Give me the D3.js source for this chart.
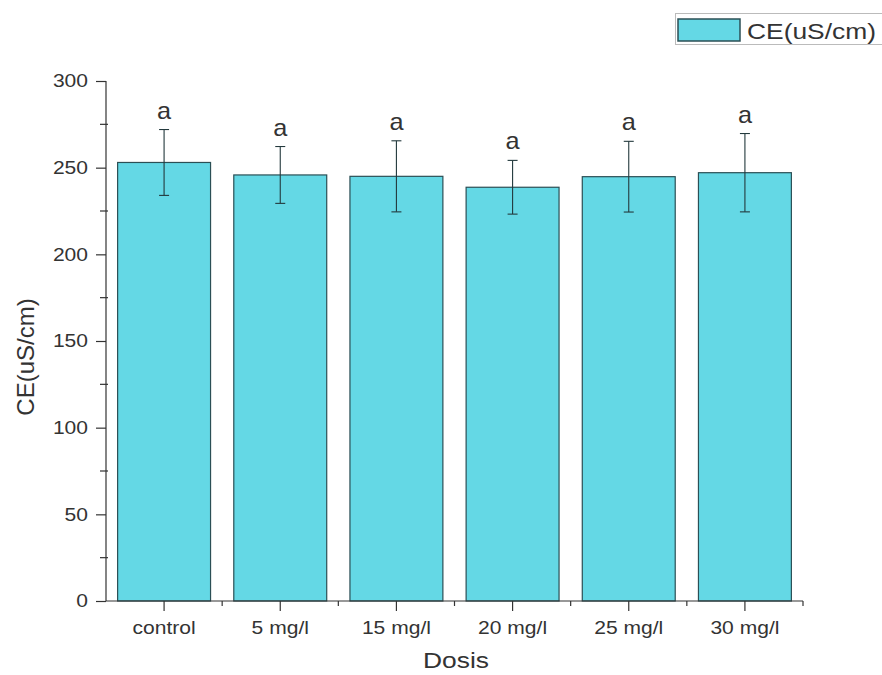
<!DOCTYPE html>
<html><head><meta charset="utf-8">
<script src="https://cdn.jsdelivr.net/npm/d3@7"></script>
<style>body{margin:0;background:#fff}svg{display:block}text{font-family:"Liberation Sans",Arial,sans-serif;fill:#333}</style>
</head><body><svg id="c" width="882" height="675"></svg>
<script>
const categories = ["control","5 mg/l","15 mg/l","20 mg/l","25 mg/l","30 mg/l"];
const values = [253, 245.8, 245, 238.7, 244.8, 247.1];
const errors = [19, 16.4, 20.5, 15.5, 20.4, 22.6];
const letters = ["a","a","a","a","a","a"];
const yTicks = [0,50,100,150,200,250,300];
const yMinorTicks = [25,75,125,175,225,275];
const seriesName = "CE(uS/cm)";
const yTitle = "CE(uS/cm)";
const xTitle = "Dosis";

const svg = d3.select("#c");
const mLeft = 106, mRight = 803, mTop = 81, mBottom = 601;
const x = d3.scaleBand().domain(categories).range([mLeft,mRight]).paddingInner(0.2).paddingOuter(0.1);
const y = d3.scaleLinear().domain([0,300]).range([mBottom,mTop]);
const fill = "#64d8e5", stroke = "#2b4f55", axisC = "#333";
const FF = "Liberation Sans, Arial, sans-serif";

function stretchedText(px, py, str, fs, sx, anchor){
  const g = svg.append("g").attr("transform",`translate(${px},${py}) scale(${sx},1)`);
  return g.append("text").attr("text-anchor",anchor||"middle").attr("font-size",fs).text(str);
}

// bars
svg.append("g").selectAll("rect").data(categories).join("rect")
  .attr("x", d=>x(d)).attr("width", x.bandwidth())
  .attr("y", (d,i)=>y(values[i])).attr("height", (d,i)=>y(0)-y(values[i]))
  .attr("fill", fill).attr("stroke", stroke).attr("stroke-width",1.2);

// error bars
const eg = svg.append("g").attr("stroke", "#23393d").attr("stroke-width",1.1);
categories.forEach((c,i)=>{
  const cx = x(c)+x.bandwidth()/2;
  eg.append("line").attr("x1",cx).attr("x2",cx).attr("y1",y(values[i]+errors[i])).attr("y2",y(values[i]-errors[i]));
  [values[i]+errors[i], values[i]-errors[i]].forEach(v=>{
    eg.append("line").attr("x1",cx-5).attr("x2",cx+5).attr("y1",y(v)).attr("y2",y(v));
  });
  stretchedText(cx, y(values[i]+errors[i])-11, letters[i], 23, 1.1);
});

// y axis
const ya = svg.append("g").attr("transform",`translate(${mLeft},0)`);
ya.call(d3.axisLeft(y).tickValues(yTicks).tickSize(10).tickPadding(8).tickSizeOuter(0));
ya.selectAll("text").attr("font-size",18).style("font-family",FF).attr("fill","#333")
  .attr("x",-18/1.17).attr("transform","scale(1.17,1)");
ya.selectAll("line,path").attr("stroke",axisC).attr("stroke-width",1.2);
ya.select(".domain").attr("d",`M0,${mBottom}V${mTop}`);
ya.selectAll(".minor").data(yMinorTicks).join("line").attr("class","minor")
  .attr("x1",-6).attr("x2",2).attr("y1",d=>y(d)).attr("y2",d=>y(d)).attr("stroke",axisC).attr("stroke-width",1.2);

// x axis
const xa = svg.append("g").attr("transform",`translate(0,${mBottom})`);
xa.call(d3.axisBottom(x).tickSize(10).tickPadding(10).tickSizeOuter(0));
xa.selectAll("text").attr("font-size",18).style("font-family",FF).attr("fill","#333")
  .attr("y",33).attr("dy",0).attr("transform","scale(1.17,1)");
xa.selectAll("line,path").attr("stroke",axisC).attr("stroke-width",1.2);
xa.select(".domain").attr("d",`M${mLeft},0H${mRight}`);
const bounds = categories.map((c,i)=>mLeft + i*x.step()).concat([mRight]);
xa.selectAll(".minor").data(bounds.slice(1)).join("line").attr("class","minor")
  .attr("x1",d=>d).attr("x2",d=>d).attr("y1",0).attr("y2",5).attr("stroke",axisC).attr("stroke-width",1.2);

// titles
svg.append("text").attr("transform",`translate(34,357) rotate(-90)`)
  .attr("text-anchor","middle").attr("font-size",24).text(yTitle);
stretchedText(456, 668, xTitle, 22, 1.2);

// legend
svg.append("rect").attr("x",675.5).attr("y",13.5).attr("width",215).attr("height",31)
  .attr("fill","none").attr("stroke","#bbb").attr("stroke-width",1);
svg.append("rect").attr("x",678).attr("y",19).attr("width",62).attr("height",22)
  .attr("fill",fill).attr("stroke",stroke).attr("stroke-width",1.5);
stretchedText(747, 39, seriesName, 22, 1.2, "start");
</script></body></html>
